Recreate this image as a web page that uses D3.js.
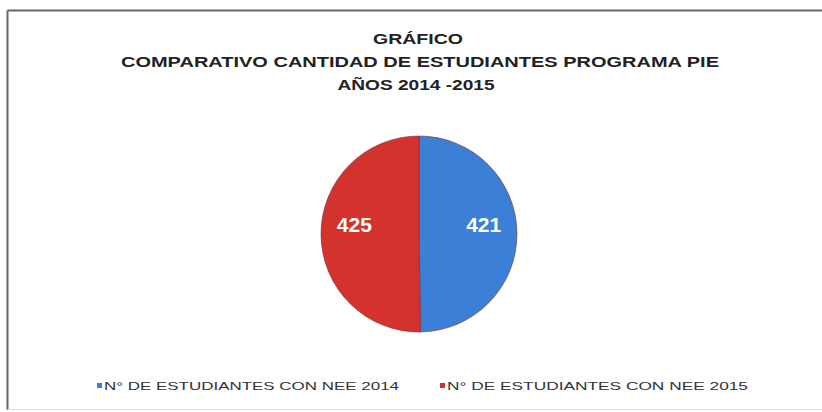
<!DOCTYPE html>
<html><head><meta charset="utf-8">
<script src="https://cdn.jsdelivr.net/npm/d3@7"></script>
<style>html,body{margin:0;padding:0;background:#fff;}svg{display:block;}</style>
</head><body>
<svg id="c" width="822" height="412"></svg>
<script>
const categories = ["N° DE ESTUDIANTES  CON NEE 2014", "N° DE ESTUDIANTES CON NEE 2015"];
const values = [421, 425];
const colors = ["#3b7fd6", "#d3322d"];
const titleLines = ["GRÁFICO", "COMPARATIVO CANTIDAD DE ESTUDIANTES PROGRAMA PIE", "AÑOS 2014 -2015"];

const svg = d3.select("#c");
// frame
svg.append("line").attr("x1",7.5).attr("y1",10.5).attr("x2",822).attr("y2",10.5).attr("stroke","#666").attr("stroke-width",2);
svg.append("line").attr("x1",7.5).attr("y1",10.5).attr("x2",7.5).attr("y2",410).attr("stroke","#666").attr("stroke-width",2);
svg.append("line").attr("x1",7.5).attr("y1",409.5).attr("x2",822).attr("y2",409.5).attr("stroke","#ddd").attr("stroke-width",1);

// title
const tw = [90, 598, 157];
const tx = [418, 420, 416];
const ty = [44, 67, 90];
titleLines.forEach((t,i)=>{
  svg.append("text").attr("x",tx[i]).attr("y",ty[i]).attr("text-anchor","middle")
    .attr("font-family","Liberation Sans, Arial, sans-serif").attr("font-weight","bold")
    .attr("font-size",14).attr("fill","#222")
    .attr("textLength",tw[i]).attr("lengthAdjust","spacingAndGlyphs").text(t);
});

// pie
const cx = 419, cy = 234, r = 98;
const pie = d3.pie().sort(null).value(d=>d)(values);
const arc = d3.arc().innerRadius(0).outerRadius(r);
const g = svg.append("g").attr("transform",`translate(${cx},${cy})`);
g.selectAll("path").data(pie).join("path").attr("d",arc)
  .attr("fill",(d,i)=>colors[i]).attr("stroke","#7a2a40").attr("stroke-width",0.6);
const labelArc = d3.arc().innerRadius(r*0.66).outerRadius(r*0.66);
g.selectAll("text").data(pie).join("text")
  .attr("x",d=>labelArc.centroid(d)[0]).attr("y",-10)
  .attr("text-anchor","middle").attr("dominant-baseline","central")
  .attr("font-family","Liberation Sans, Arial, sans-serif").attr("font-weight","bold")
  .attr("font-size",21).attr("fill","#fff").text(d=>d.data);

// legend
const lx = [97, 440], ltw = [295, 301];
categories.forEach((c,i)=>{
  svg.append("rect").attr("x",lx[i]).attr("y",383).attr("width",5).attr("height",5).attr("fill",colors[i]);
  svg.append("text").attr("x",lx[i]+7).attr("y",390)
    .attr("font-family","Liberation Sans, Arial, sans-serif").attr("font-size",11).attr("fill","#333")
    .attr("textLength",ltw[i]).attr("lengthAdjust","spacingAndGlyphs").text(c);
});
</script>
</body></html>
